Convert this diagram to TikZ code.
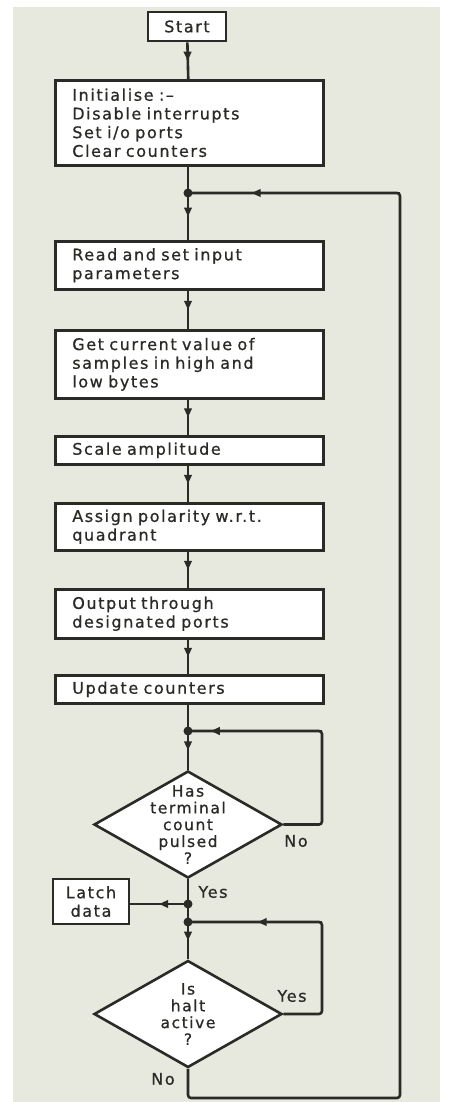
\documentclass[tikz,border=0pt]{standalone}
\usepackage{fontspec}
\setmainfont[LetterSpace=10,FakeBold=0.8]{DejaVu Sans}
\usetikzlibrary{shapes.geometric,arrows.meta,decorations.markings}
\definecolor{panel}{HTML}{E7E8DE}
\definecolor{ink}{HTML}{2A2A26}
\tikzset{
  x=1pt,y=-1pt,
  line/.style={draw=ink,line width=2.6pt},
  box/.style={draw=ink,line width=2.6pt,fill=white,rectangle,inner xsep=17pt,inner ysep=0pt,
     font=\fontsize{16}{18.7}\selectfont,text=ink,align=left,anchor=north west},
  cbox/.style={draw=ink,line width=2.6pt,fill=white,rectangle,inner sep=0pt,
     font=\fontsize{16}{18.5}\selectfont,text=ink,align=center},
  dec/.style={draw=ink,line width=2.6pt,fill=white,diamond,inner sep=-30pt,
     minimum width=188pt,minimum height=107pt,aspect=1.757,
     font=\fontsize{15.5}{16.8}\selectfont,text=ink,align=center},
  dot/.style={circle,fill=ink,inner sep=0pt,minimum size=9pt},
  lbl/.style={font=\fontsize{16}{17}\selectfont,text=ink},
  arrowat/.style={decoration={markings,mark=at position #1 with {\arrow{Triangle[length=9pt,width=7.5pt]}}},postaction={decorate}},
  midarrow/.style={arrowat=0.5},
}
\begin{document}
\begin{tikzpicture}
\useasboundingbox (0,0) rectangle (451,1102);
\fill[white] (0,0) rectangle (451,1102);
\fill[panel] (13,7) rectangle (440,1102);

\node[cbox,minimum width=78pt,minimum height=29pt] (start) at (187,26.5) {Start};
\node[box,minimum width=268pt,minimum height=85pt,text width=234pt] (init) at (54,79) {Initialise :--\\Disable interrupts\\Set i/o ports\\Clear counters};
\coordinate (j1) at (188,193);
\node[box,minimum width=268pt,minimum height=48pt,text width=234pt] (read) at (54,240) {Read and set input\\parameters};
\node[box,minimum width=268pt,minimum height=68pt,text width=234pt] (get) at (54,329) {Get current value of\\samples in high and\\low bytes};
\node[box,minimum width=268pt,minimum height=28pt,text width=234pt] (scale) at (54,435) {Scale amplitude};
\node[box,minimum width=268pt,minimum height=47pt,text width=234pt] (assign) at (54,502) {Assign polarity w.r.t.\\quadrant};
\node[box,minimum width=268pt,minimum height=49pt,text width=234pt] (output) at (54,588) {Output through\\designated ports};
\node[box,minimum width=268pt,minimum height=28pt,text width=234pt] (update) at (54,674) {Update counters};
\coordinate (j2) at (188,731);
\node[dec] (tc) at (188,824.5) {Has\\terminal\\count\\pulsed\\?};
\coordinate (j3) at (188,904);
\coordinate (j4) at (188,922);
\node[cbox,minimum width=76pt,minimum height=45pt] (latch) at (91,901.5) {Latch\\data};
\node[dec] (halt) at (188,1014) {Is\\halt\\active\\?};
\coordinate (bl) at (188,1098);
\coordinate (br) at (400,1098);
\coordinate (tr) at (400,193);
\coordinate (nr) at (322,824.5);
\coordinate (nt) at (322,731);
\coordinate (yr) at (322,1014);
\coordinate (yt) at (322,922);

\draw[line,midarrow] (start) -- (init);
\draw[line] (init.south -| j1) -- (j1);
\draw[line,midarrow] (j1) -- (read.north -| j1);
\draw[line,midarrow] (read.south -| j1) -- (get.north -| j1);
\draw[line,midarrow] (get.south -| j1) -- (scale.north -| j1);
\draw[line,midarrow] (scale.south -| j1) -- (assign.north -| j1);
\draw[line,midarrow] (assign.south -| j1) -- (output.north -| j1);
\draw[line,midarrow] (output.south -| j1) -- (update.north -| j1);
\draw[line] (update.south -| j1) -- (j2);
\draw[line,midarrow] (j2) -- (tc.north);
\draw[line] (tc.south) -- (j3);
\draw[line] (j3) -- (j4);
\draw[line,midarrow] (j3) -- (latch.east |- j3);
\draw[line,midarrow] (j4) -- (halt.north);
\draw[line,rounded corners=3pt] (tc.east) -- (nr) -- (nt) -- (j2);
\draw[line,arrowat=0.83] (nt) -- (j2);
\draw[line,rounded corners=3pt] (halt.east) -- (yr) -- (yt) -- (j4);
\draw[line,arrowat=0.48] (yt) -- (j4);
\draw[line,rounded corners=3pt] (halt.south) -- (bl) -- (br) -- (tr) -- (j1);
\draw[line,arrowat=0.7] (tr) -- (j1);

\node[dot] at (j1) {};
\node[dot] at (j2) {};
\node[dot] at (j3) {};
\node[dot] at (j4) {};

\node[lbl] (lno1) at (296,841) {No};
\node[lbl] (lyes1) at (213,892) {Yes};
\node[lbl] (lyes2) at (292,996) {Yes};
\node[lbl] (lno2) at (163,1079) {No};
\end{tikzpicture}
\end{document}
